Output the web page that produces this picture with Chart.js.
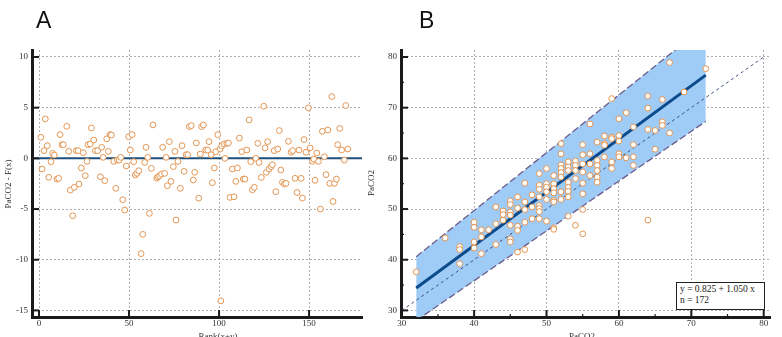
<!DOCTYPE html>
<html><head><meta charset="utf-8">
<script src="https://cdn.jsdelivr.net/npm/chart.js@4/dist/chart.umd.min.js"></script>
<style>
html,body{margin:0;padding:0;background:#fff;overflow:hidden;width:782px;height:337px;}
#wrap{position:relative;width:782px;height:337px;overflow:hidden;}
canvas{position:absolute;}
.lbl{position:absolute;font-family:"Liberation Sans",Arial,sans-serif;font-size:23px;line-height:23px;color:#111;}
.ttl{position:absolute;font-family:"Liberation Serif",serif;font-size:9px;line-height:12px;height:12px;width:120px;text-align:center;color:#333;white-space:nowrap;}
.rot{transform:rotate(-90deg);}
#eq{position:absolute;left:676px;top:282px;width:84px;height:25px;border:1.5px solid #222;background:#fff;font-family:"Liberation Serif",serif;font-size:9.5px;line-height:11px;color:#222;padding:1px 0 0 3px;box-sizing:content-box;white-space:nowrap;}
</style></head><body><div id="wrap">
<canvas id="cA" width="372" height="350" style="left:0;top:0;width:372px;height:350px"></canvas>
<canvas id="cB" width="422" height="350" style="left:360px;top:0;width:422px;height:350px"></canvas>
<div class="lbl" style="left:36px;top:9px">A</div>
<div class="lbl" style="left:419px;top:9px">B</div>
<div class="ttl rot" style="left:-52px;top:178px">PaCO2 - F(x)</div>
<div class="ttl" style="left:158px;top:330px">Rank(x+y)</div>
<div class="ttl rot" style="left:311px;top:177px">PaCO2</div>
<div class="ttl" style="left:522px;top:330px">PaCO2</div>
<div id="eq">y = 0.825 + 1.050 x<br>n = 172</div>
</div>
<script>
// ---------- Panel A data: rank vs residual ----------
const rankA = [1,1.7,2.8,3.5,4.6,5.4,6.7,7.6,8.5,10,
10.9,11.7,12.8,13.5,15.4,16.5,17.4,18.7,19.6,20.7,
21.7,22.2,23.5,24.6,25.7,26.7,27.2,28.5,29.1,30.4,
31.3,32.6,34.1,34.8,35.6,36.5,37.6,38.5,39.4,40.2,
41.5,42.6,43.5,44.6,45.4,46.5,47.6,48.5,49.8,50.7,
51.7,52.6,53.5,54.4,55.4,56.7,57.6,58.7,59.4,60.4,
61.3,62.4,63.3,65.4,66.1,67,68,68.7,69.8,70.6,
71.3,72.4,73.3,74.6,75.5,76.1,77.2,78.5,79.4,80.6,
81.7,82.6,83.5,84.6,85.7,86.5,87.4,88.7,89.6,90.3,
91.3,92.6,93.7,94.4,95.6,96.3,97.4,98.2,99.3,100.6,
101,101.5,102.8,103.3,104.3,105.2,106.1,107.4,108.3,109.3,
110.2,111.3,112.6,113.5,114.4,115.4,116.7,117.6,118.5,119.6,
120.4,121.5,122.2,123.5,124.8,125.6,126.3,127,127.8,128.9,
129.6,130.6,131.5,132.6,133.5,134.3,135.2,136.3,137.2,138.5,
140,140.9,142.2,143.3,144.4,145.6,146.3,147.2,148.3,149.6,
150.6,151.9,152.6,153.3,154.3,155.2,156.3,157.4,158.5,159.4,
160.4,161.5,162.6,163.3,164.1,165.2,165.9,167,168.1,169.6,
170.4,171.5];
const residA = [2.08,-1.05,0.76,3.89,1.25,-1.87,-0.33,0.49,0.33,-2.04,
-1.97,2.34,1.35,1.35,3.16,0.69,-3.13,-5.66,-2.86,0.76,
0.76,-2.53,-0.95,0.56,-1.71,-0.30,1.35,1.42,3.0,1.81,
0.76,0.76,-1.81,1.09,0.1,-2.2,1.92,0.69,2.34,2.3,
-0.30,-2.96,-0.17,-0.17,0.1,-4.08,-5.1,-0.75,2.14,0.82,
2.34,-0.33,-1.64,-1.48,-1.22,-9.4,-7.5,-0.40,1.09,0.1,
-5.43,-0.99,3.3,-1.94,-1.81,-1.71,-1.55,1.09,-1.48,0.1,
-2.7,1.65,-2.27,-0.82,0.69,-6.09,-0.3,-2.96,1.25,-1.28,
0.36,0.36,3.13,3.23,-2.14,-1.38,1.52,-3.92,0.43,3.13,
3.29,0.82,0.82,1.65,0.36,-2.4,-0.95,0.66,2.34,0.92,
-14.06,1.25,1.42,0.0,1.48,1.52,-3.85,-1.05,-3.79,-2.27,
-0.95,2.0,0.66,-2.04,-2.04,0.82,3.79,-0.33,-3.1,-2.86,
0.0,1.48,-0.4,-1.88,5.14,1.03,-1.38,1.65,-1.05,-0.82,
-0.63,0.76,-3.29,0.92,2.74,-1.15,-2.37,-2.53,-2.47,1.68,
0.6,0.76,-1.97,-3.36,0.82,-1.97,-3.92,1.85,0.6,4.98,
1.03,-0.3,-0.07,-2.17,0.53,-0.3,-5.0,2.67,0.16,-1.61,
2.8,-2.47,6.1,-4.25,-2.47,-2.04,1.35,2.96,0.82,-0.17,
5.21,0.92];
const zeroLineX = [-4, 180];
const xTicksA = [0, 50, 100, 150];
const yTicksA = [-15, -10, -5, 0, 5, 10];

// ---------- Panel B data: PaCO2 (x) vs PaCO2 (y) ----------
const xB = [32,36,38,38,38,40,40,40,40,41,41,41,42,43,43,43,44,44,44,
45,45,45,45,45,45,45,46,46,46,46,46,47,47,47,47,47,48,48,48,
49,49,49,49,49,49,49,49,50,50,50,50,50,50,51,51,51,51,51,51,51,51,
52,52,52,52,52,52,52,52,53,53,53,53,53,53,53,53,54,54,54,54,54,
55,55,55,55,55,55,55,55,56,56,56,56,57,57,57,57,57,57,58,58,58,58,
59,59,59,59,59,60,60,60,60,60,61,61,62,62,62,62,64,64,64,64,65,65,
66,66,66,67,67,69,72];
const yB = [37.6,44.3,42.6,42.0,39.2,47.4,46.4,43.5,42.3,45.9,44.5,41.2,45.9,50.4,47.1,43.0,49.6,48.9,47.8,
51.6,50.9,49.4,48.8,46.8,44.1,43.5,52.4,50.2,46.6,45.8,41.5,55.1,51.4,49.9,47.4,42.0,52.8,50.4,48.1,
57.0,54.7,53.9,52.4,50.7,50.1,49.5,48.1,58.0,55.0,54.3,53.4,51.9,47.6,56.6,55.0,54.0,53.2,51.7,51.4,46.3,46.0,
62.9,60.9,58.7,58.0,57.2,56.3,53.4,51.9,59.3,58.3,57.6,55.3,54.3,53.5,52.4,48.6,59.5,58.6,57.6,56.0,46.8,
62.7,60.7,58.9,57.3,55.1,53.0,49.9,45.1,66.8,60.9,58.9,56.6,63.2,59.6,58.6,57.6,56.3,55.3,64.4,62.9,62.6,60.3,
71.8,64.2,63.9,59.3,58.0,67.8,64.5,63.4,60.9,60.3,69.0,60.1,66.2,62.7,60.3,58.6,72.3,69.9,65.7,47.8,65.5,61.8,
71.6,67.2,66.5,78.9,65.0,73.1,77.7];
const bandX = [32, 72];
const bandUpper = [40.6, 86.2];
const bandLower = [28.0, 67.3];
const regIntercept = 0.825, regSlope = 1.050;
const identityX = [30, 80];
const xTicksB = [30, 40, 50, 60, 70, 80];
const yTicksB = [30, 40, 50, 60, 70, 80];
const xMinorB = [35, 45, 55, 65, 75];
const yMinorB = [35, 45, 55, 65, 75];

// ---------- helpers ----------
const ORANGE = '#e39552';
const tickFont = {family: 'Liberation Serif', size: 9};
const innerTicks = {
  id: 'innerTicks',
  afterDatasetsDraw(chart, args, o) {
    const ctx = chart.ctx, ca = chart.chartArea;
    const xs = chart.scales.x, ys = chart.scales.y;
    ctx.save();
    ctx.strokeStyle = '#1a1a1a';
    const seg = (x1, y1, x2, y2, w) => { ctx.lineWidth = w; ctx.beginPath(); ctx.moveTo(x1, y1); ctx.lineTo(x2, y2); ctx.stroke(); };
    (o.xMajor || []).forEach(v => { const p = xs.getPixelForValue(v); seg(p, ca.bottom, p, ca.bottom - 7, 2); });
    (o.yMajor || []).forEach(v => { const p = ys.getPixelForValue(v); seg(ca.left, p, ca.left + 7, p, 2); });
    (o.xMinor || []).forEach(v => { const p = xs.getPixelForValue(v); seg(p, ca.bottom, p, ca.bottom - 3, 1.2); });
    (o.yMinor || []).forEach(v => { const p = ys.getPixelForValue(v); seg(ca.left, p, ca.left + 3, p, 1.2); });
    ctx.restore();
  }
};
function axis(min, max, ticks, isX, fitSize) {
  return {
    type: 'linear', min: min, max: max,
    afterBuildTicks: s => { s.ticks = ticks.map(v => ({value: v})); },
    afterFit: s => { if (isX) s.height = fitSize; else s.width = fitSize; },
    grid: {color: '#b0b0b0', lineWidth: 1, drawTicks: false},
    border: {display: true, color: '#1a1a1a', width: 3, dash: [2, 2]},
    ticks: {font: tickFont, color: '#333', padding: isX ? 1 : 4, autoSkip: false, maxRotation: 0}
  };
}
const baseOpts = {
  responsive: false, animation: false, devicePixelRatio: 1,
  plugins: {legend: {display: false}, tooltip: {enabled: false}},
};

// ---------- Chart A ----------
new Chart(document.getElementById('cA'), {
  type: 'scatter',
  data: {datasets: [
    {data: rankA.map((r, i) => ({x: r, y: residA[i]})), pointRadius: 2.9, pointBorderWidth: 1,
     borderColor: ORANGE, backgroundColor: '#fff', order: 0},
    {type: 'line', data: zeroLineX.map(x => ({x: x, y: 0})), borderColor: '#1d4f7c', borderWidth: 2,
     pointRadius: 0, order: 1}
  ]},
  options: Object.assign({}, baseOpts, {
    layout: {padding: {top: 50, right: 10, left: 0, bottom: 0}},
    scales: {x: axis(-3.9, 179.4, xTicksA, true, 33), y: axis(-15.65, 10.69, yTicksA, false, 32)},
    plugins: {legend: {display: false}, tooltip: {enabled: false},
      innerTicks: {xMajor: xTicksA, yMajor: yTicksA}}
  }),
  plugins: [innerTicks]
});

// ---------- Chart B ----------
new Chart(document.getElementById('cB'), {
  type: 'scatter',
  data: {datasets: [
    {type: 'line', data: bandX.map((x, i) => ({x: x, y: bandUpper[i]})), borderColor: '#6a5c8c', borderWidth: 1.3,
     borderDash: [7, 3], pointRadius: 0, fill: '+1', backgroundColor: '#9fcbf7', order: 5},
    {type: 'line', data: bandX.map((x, i) => ({x: x, y: bandLower[i]})), borderColor: '#6a5c8c', borderWidth: 1.3,
     borderDash: [7, 3], pointRadius: 0, fill: false, order: 4},
    {type: 'line', data: identityX.map(x => ({x: x, y: x})), borderColor: '#3d4f7d', borderWidth: 1,
     borderDash: [3, 3], pointRadius: 0, fill: false, order: 3},
    {type: 'line', data: bandX.map(x => ({x: x, y: regIntercept + regSlope * x})), borderColor: '#0b4a8b', borderWidth: 3,
     pointRadius: 0, fill: false, order: 2},
    {data: xB.map((x, i) => ({x: x, y: yB[i]})), pointRadius: 2.9, pointBorderWidth: 1,
     borderColor: ORANGE, backgroundColor: '#fff', order: 0}
  ]},
  options: Object.assign({}, baseOpts, {
    layout: {padding: {top: 50, right: 12, left: 0, bottom: 0}},
    scales: {x: axis(29.9, 80.87, xTicksB, true, 33), y: axis(28.7, 81.38, yTicksB, false, 41)},
    plugins: {legend: {display: false}, tooltip: {enabled: false},
      innerTicks: {xMajor: xTicksB, yMajor: yTicksB, xMinor: xMinorB, yMinor: yMinorB}}
  }),
  plugins: [innerTicks]
});
</script>
</body></html>
